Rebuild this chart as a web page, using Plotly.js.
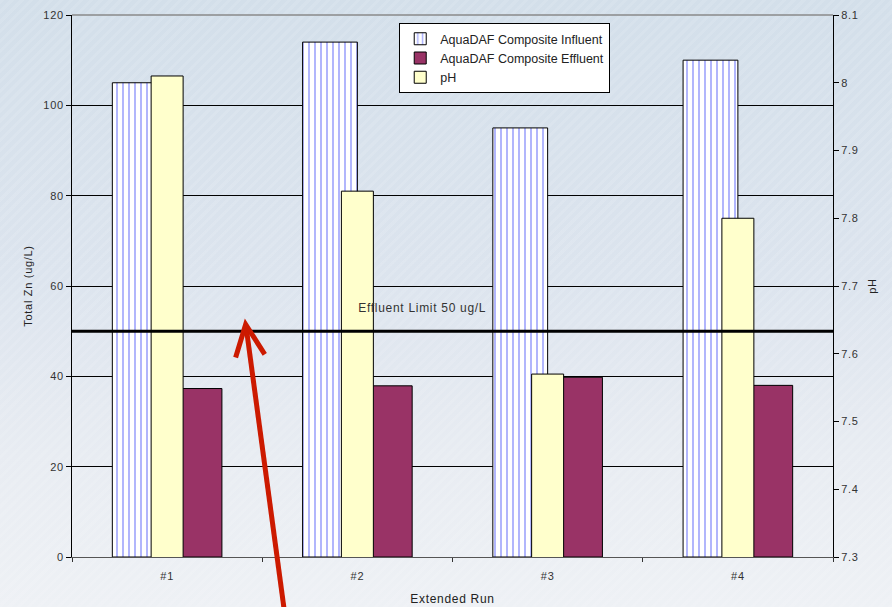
<!DOCTYPE html>
<html>
<head>
<meta charset="utf-8">
<script src="https://cdn.plot.ly/plotly-3.0.1.min.js"></script>
<style>
  html, body { margin: 0; padding: 0; }
  body {
    width: 892px; height: 607px; overflow: hidden;
    background:
      repeating-linear-gradient(135deg, rgba(255,255,255,0.10) 0px, rgba(255,255,255,0.10) 3px, rgba(255,255,255,0) 3px, rgba(255,255,255,0) 7px),
      linear-gradient(to bottom, #d3dfea 0%, #dce4ee 45%, #e8ecf2 75%, #eef1f5 100%);
  }
  #chart { width: 892px; height: 607px; }
  /* slightly open letter spacing for axis and note text */
  #chart svg text { letter-spacing: 0.7px; }
  #chart svg .legend text { letter-spacing: 0; }
</style>
</head>
<body>
<div id="chart"></div>
<script>
// Extended runs and measured values
const categories = ['#1', '#2', '#3', '#4'];
const influentZn = [105, 114, 95, 110];
const effluentZn = [37.3, 37.9, 39.8, 38.0];
const phValues = [8.01, 7.84, 7.57, 7.80];
const effluentLimit = 50;
const seriesNames = ['AquaDAF Composite Influent', 'AquaDAF Composite Effluent', 'pH'];

const font = 'Liberation Sans, Arial, sans-serif';
const outline = { color: '#000000', width: 1 };

const traces = [
  {
    type: 'bar', name: seriesNames[0], x: categories, y: influentZn,
    offset: -0.288, width: 0.288, yaxis: 'y',
    marker: {
      color: '#ffffff', line: outline,
      pattern: { shape: '|', fgcolor: '#a9aefc', bgcolor: '#ffffff', size: 6, solidity: 0.3 }
    },
    hoverinfo: 'y'
  },
  {
    type: 'bar', name: seriesNames[1], x: categories, y: effluentZn,
    offset: 0, width: 0.288, yaxis: 'y',
    marker: { color: '#993366', line: outline },
    hoverinfo: 'y'
  },
  {
    type: 'bar', name: seriesNames[2], x: categories, y: phValues,
    offset: -0.084, width: 0.168, yaxis: 'y2',
    marker: { color: '#ffffcc', line: outline },
    hoverinfo: 'y'
  }
];

const layout = {
  width: 892, height: 607,
  margin: { l: 72, r: 59, t: 15, b: 50 },
  paper_bgcolor: 'rgba(0,0,0,0)',
  plot_bgcolor: 'rgba(0,0,0,0)',
  barmode: 'overlay',
  font: { family: font, size: 11, color: '#333333' },
  showlegend: true,
  legend: {
    x: 0.43, y: 0.985, xanchor: 'left', yanchor: 'top',
    bgcolor: '#ffffff', bordercolor: '#000000', borderwidth: 1,
    font: { family: font, size: 12.5, color: '#222222' },
    itemwidth: 30, tracegroupgap: 0
  },
  xaxis: {
    type: 'category',
    range: [-0.5, 3.5],
    tickson: 'boundaries',
    ticks: 'outside', ticklen: 4, tickcolor: '#333333',
    ticklabelstandoff: 9,
    showline: true, linecolor: '#555555', linewidth: 1,
    showgrid: false, zeroline: false,
    tickfont: { family: font, size: 11, color: '#333333' },
    title: { text: 'Extended Run', font: { family: font, size: 12, color: '#222222' }, standoff: 13 }
  },
  yaxis: {
    range: [0, 120], dtick: 20,
    ticks: 'outside', ticklen: 5, tickcolor: '#000000',
    showline: true, linecolor: '#000000', linewidth: 1,
    showgrid: true, gridcolor: '#000000', gridwidth: 1,
    zeroline: false,
    tickfont: { family: font, size: 11, color: '#333333' },
    title: { text: 'Total Zn (ug/L)', font: { family: font, size: 11, color: '#222222' }, standoff: 10 }
  },
  yaxis2: {
    overlaying: 'y', side: 'right',
    range: [7.3, 8.1], dtick: 0.1,
    ticks: 'outside', ticklen: 5, tickcolor: '#000000',
    showline: true, linecolor: '#000000', linewidth: 1,
    showgrid: false, zeroline: false,
    tickfont: { family: font, size: 11, color: '#333333' },
    title: { text: 'pH', font: { family: font, size: 11, color: '#222222' }, standoff: 12 }
  },
  shapes: [
    // plot-area top border
    { type: 'line', xref: 'paper', yref: 'paper', x0: 0, x1: 1, y0: 1, y1: 1,
      line: { color: '#8a8a8a', width: 1.5 }, layer: 'below' },
    // effluent limit
    { type: 'line', xref: 'paper', yref: 'y', x0: 0, x1: 1, y0: effluentLimit, y1: effluentLimit,
      line: { color: '#000000', width: 3 }, layer: 'above' },
    // red pointer arrow: shaft and head
    { type: 'path', xref: 'paper', yref: 'paper', layer: 'above',
      path: 'M 0.2786 -0.095 L 0.2290 0.4225',
      line: { color: '#cc1a00', width: 5 } },
    { type: 'path', xref: 'paper', yref: 'paper', layer: 'above',
      path: 'M 0.2150 0.3680 L 0.2282 0.4290 L 0.2533 0.3740',
      line: { color: '#cc1a00', width: 5 } }
  ],
  annotations: [
    { xref: 'paper', yref: 'y', x: 0.461, y: effluentLimit, yanchor: 'bottom', yshift: 14,
      text: 'Effluent Limit ' + effluentLimit + ' ug/L', showarrow: false,
      font: { family: font, size: 12, color: '#333333' } }
  ]
};

Plotly.newPlot('chart', traces, layout, { displayModeBar: false, staticPlot: true });
</script>
</body>
</html>
